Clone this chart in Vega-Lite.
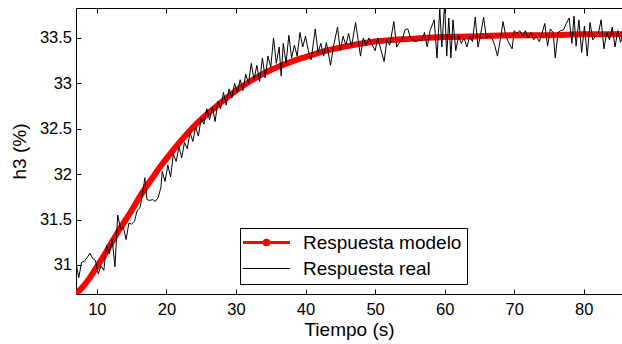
{
  "$schema": "https://vega.github.io/schema/vega-lite/v6.json",
  "width": 546,
  "height": 286,
  "autosize": {"type": "none"},
  "padding": {"left": 76, "top": 8, "right": 0, "bottom": 50},
  "background": "white",
  "config": {
    "view": {"stroke": null},
    "font": "Liberation Sans",
    "axis": {
      "domainColor": "black",
      "domainWidth": 1,
      "tickColor": "black",
      "tickSize": -5,
      "tickWidth": 1,
      "grid": false,
      "labelFont": "Liberation Sans",
      "labelFontSize": 16.5,
      "labelColor": "black",
      "titleFont": "Liberation Sans",
      "titleFontSize": 19,
      "titleFontWeight": "normal",
      "titleColor": "black"
    }
  },
  "datasets": {
    "model": [
      {"t": 7.0, "v": 30.68, "s": "Respuesta modelo"},
      {"t": 8.0, "v": 30.76, "s": "Respuesta modelo"},
      {"t": 9.0, "v": 30.86, "s": "Respuesta modelo"},
      {"t": 10.0, "v": 30.98, "s": "Respuesta modelo"},
      {"t": 11.0, "v": 31.10, "s": "Respuesta modelo"},
      {"t": 12.0, "v": 31.23, "s": "Respuesta modelo"},
      {"t": 13.0, "v": 31.36, "s": "Respuesta modelo"},
      {"t": 14.0, "v": 31.48, "s": "Respuesta modelo"},
      {"t": 15.0, "v": 31.60, "s": "Respuesta modelo"},
      {"t": 16.0, "v": 31.73, "s": "Respuesta modelo"},
      {"t": 17.0, "v": 31.85, "s": "Respuesta modelo"},
      {"t": 18.0, "v": 31.96, "s": "Respuesta modelo"},
      {"t": 19.0, "v": 32.07, "s": "Respuesta modelo"},
      {"t": 20.0, "v": 32.17, "s": "Respuesta modelo"},
      {"t": 22.0, "v": 32.36, "s": "Respuesta modelo"},
      {"t": 24.0, "v": 32.53, "s": "Respuesta modelo"},
      {"t": 26.0, "v": 32.67, "s": "Respuesta modelo"},
      {"t": 28.0, "v": 32.80, "s": "Respuesta modelo"},
      {"t": 30.0, "v": 32.92, "s": "Respuesta modelo"},
      {"t": 32.0, "v": 33.02, "s": "Respuesta modelo"},
      {"t": 34.0, "v": 33.11, "s": "Respuesta modelo"},
      {"t": 36.0, "v": 33.18, "s": "Respuesta modelo"},
      {"t": 38.0, "v": 33.24, "s": "Respuesta modelo"},
      {"t": 40.0, "v": 33.29, "s": "Respuesta modelo"},
      {"t": 43.0, "v": 33.36, "s": "Respuesta modelo"},
      {"t": 46.0, "v": 33.41, "s": "Respuesta modelo"},
      {"t": 50.0, "v": 33.46, "s": "Respuesta modelo"},
      {"t": 55.0, "v": 33.49, "s": "Respuesta modelo"},
      {"t": 60.0, "v": 33.51, "s": "Respuesta modelo"},
      {"t": 65.0, "v": 33.52, "s": "Respuesta modelo"},
      {"t": 70.0, "v": 33.53, "s": "Respuesta modelo"},
      {"t": 75.0, "v": 33.53, "s": "Respuesta modelo"},
      {"t": 80.0, "v": 33.54, "s": "Respuesta modelo"},
      {"t": 86.0, "v": 33.54, "s": "Respuesta modelo"}
    ],
    "real": [
      {"t": 7.0, "v": 31.02, "s": "Respuesta real"},
      {"t": 7.4, "v": 30.86, "s": "Respuesta real"},
      {"t": 7.8, "v": 31.03, "s": "Respuesta real"},
      {"t": 8.2, "v": 31.04, "s": "Respuesta real"},
      {"t": 8.6, "v": 31.08, "s": "Respuesta real"},
      {"t": 9.0, "v": 31.13, "s": "Respuesta real"},
      {"t": 9.4, "v": 31.07, "s": "Respuesta real"},
      {"t": 9.8, "v": 31.05, "s": "Respuesta real"},
      {"t": 10.2, "v": 30.90, "s": "Respuesta real"},
      {"t": 10.6, "v": 30.99, "s": "Respuesta real"},
      {"t": 11.0, "v": 30.94, "s": "Respuesta real"},
      {"t": 11.4, "v": 31.22, "s": "Respuesta real"},
      {"t": 11.8, "v": 31.12, "s": "Respuesta real"},
      {"t": 12.2, "v": 31.28, "s": "Respuesta real"},
      {"t": 12.6, "v": 30.98, "s": "Respuesta real"},
      {"t": 13.0, "v": 31.55, "s": "Respuesta real"},
      {"t": 13.4, "v": 31.40, "s": "Respuesta real"},
      {"t": 13.8, "v": 31.42, "s": "Respuesta real"},
      {"t": 14.2, "v": 31.28, "s": "Respuesta real"},
      {"t": 14.6, "v": 31.46, "s": "Respuesta real"},
      {"t": 15.0, "v": 31.45, "s": "Respuesta real"},
      {"t": 15.4, "v": 31.48, "s": "Respuesta real"},
      {"t": 15.8, "v": 31.60, "s": "Respuesta real"},
      {"t": 16.2, "v": 31.63, "s": "Respuesta real"},
      {"t": 16.6, "v": 31.80, "s": "Respuesta real"},
      {"t": 16.9, "v": 31.96, "s": "Respuesta real"},
      {"t": 17.2, "v": 31.72, "s": "Respuesta real"},
      {"t": 17.6, "v": 31.71, "s": "Respuesta real"},
      {"t": 18.0, "v": 31.72, "s": "Respuesta real"},
      {"t": 18.4, "v": 31.70, "s": "Respuesta real"},
      {"t": 18.8, "v": 31.74, "s": "Respuesta real"},
      {"t": 19.2, "v": 31.85, "s": "Respuesta real"},
      {"t": 19.4, "v": 32.03, "s": "Respuesta real"},
      {"t": 19.8, "v": 31.92, "s": "Respuesta real"},
      {"t": 20.2, "v": 32.10, "s": "Respuesta real"},
      {"t": 20.6, "v": 31.97, "s": "Respuesta real"},
      {"t": 21.0, "v": 32.22, "s": "Respuesta real"},
      {"t": 21.4, "v": 32.14, "s": "Respuesta real"},
      {"t": 21.8, "v": 32.30, "s": "Respuesta real"},
      {"t": 22.2, "v": 32.18, "s": "Respuesta real"},
      {"t": 22.6, "v": 32.35, "s": "Respuesta real"},
      {"t": 23.0, "v": 32.28, "s": "Respuesta real"},
      {"t": 23.4, "v": 32.46, "s": "Respuesta real"},
      {"t": 23.8, "v": 32.36, "s": "Respuesta real"},
      {"t": 24.2, "v": 32.52, "s": "Respuesta real"},
      {"t": 24.6, "v": 32.42, "s": "Respuesta real"},
      {"t": 25.0, "v": 32.62, "s": "Respuesta real"},
      {"t": 25.4, "v": 32.55, "s": "Respuesta real"},
      {"t": 25.8, "v": 32.72, "s": "Respuesta real"},
      {"t": 26.2, "v": 32.60, "s": "Respuesta real"},
      {"t": 26.6, "v": 32.74, "s": "Respuesta real"},
      {"t": 27.0, "v": 32.58, "s": "Respuesta real"},
      {"t": 27.4, "v": 32.80, "s": "Respuesta real"},
      {"t": 27.8, "v": 32.72, "s": "Respuesta real"},
      {"t": 28.2, "v": 32.90, "s": "Respuesta real"},
      {"t": 28.6, "v": 32.76, "s": "Respuesta real"},
      {"t": 29.0, "v": 32.94, "s": "Respuesta real"},
      {"t": 29.4, "v": 32.84, "s": "Respuesta real"},
      {"t": 29.8, "v": 33.00, "s": "Respuesta real"},
      {"t": 30.2, "v": 32.90, "s": "Respuesta real"},
      {"t": 30.6, "v": 33.04, "s": "Respuesta real"},
      {"t": 31.0, "v": 32.92, "s": "Respuesta real"},
      {"t": 31.4, "v": 33.10, "s": "Respuesta real"},
      {"t": 31.8, "v": 33.00, "s": "Respuesta real"},
      {"t": 32.2, "v": 33.22, "s": "Respuesta real"},
      {"t": 32.6, "v": 33.04, "s": "Respuesta real"},
      {"t": 33.0, "v": 33.20, "s": "Respuesta real"},
      {"t": 33.4, "v": 33.02, "s": "Respuesta real"},
      {"t": 33.8, "v": 33.28, "s": "Respuesta real"},
      {"t": 34.2, "v": 33.06, "s": "Respuesta real"},
      {"t": 34.6, "v": 33.30, "s": "Respuesta real"},
      {"t": 35.0, "v": 33.18, "s": "Respuesta real"},
      {"t": 35.4, "v": 33.50, "s": "Respuesta real"},
      {"t": 35.8, "v": 33.22, "s": "Respuesta real"},
      {"t": 36.2, "v": 33.40, "s": "Respuesta real"},
      {"t": 36.5, "v": 33.08, "s": "Respuesta real"},
      {"t": 36.8, "v": 33.44, "s": "Respuesta real"},
      {"t": 37.2, "v": 33.22, "s": "Respuesta real"},
      {"t": 37.6, "v": 33.53, "s": "Respuesta real"},
      {"t": 38.0, "v": 33.28, "s": "Respuesta real"},
      {"t": 38.4, "v": 33.42, "s": "Respuesta real"},
      {"t": 38.8, "v": 33.30, "s": "Respuesta real"},
      {"t": 39.2, "v": 33.56, "s": "Respuesta real"},
      {"t": 39.6, "v": 33.40, "s": "Respuesta real"},
      {"t": 40.0, "v": 33.52, "s": "Respuesta real"},
      {"t": 40.4, "v": 33.36, "s": "Respuesta real"},
      {"t": 40.8, "v": 33.26, "s": "Respuesta real"},
      {"t": 41.4, "v": 33.60, "s": "Respuesta real"},
      {"t": 41.8, "v": 33.34, "s": "Respuesta real"},
      {"t": 42.2, "v": 33.44, "s": "Respuesta real"},
      {"t": 42.6, "v": 33.30, "s": "Respuesta real"},
      {"t": 43.0, "v": 33.45, "s": "Respuesta real"},
      {"t": 43.6, "v": 33.20, "s": "Respuesta real"},
      {"t": 44.0, "v": 33.40, "s": "Respuesta real"},
      {"t": 44.6, "v": 33.62, "s": "Respuesta real"},
      {"t": 45.0, "v": 33.36, "s": "Respuesta real"},
      {"t": 45.4, "v": 33.52, "s": "Respuesta real"},
      {"t": 45.8, "v": 33.42, "s": "Respuesta real"},
      {"t": 46.2, "v": 33.55, "s": "Respuesta real"},
      {"t": 46.6, "v": 33.40, "s": "Respuesta real"},
      {"t": 47.2, "v": 33.67, "s": "Respuesta real"},
      {"t": 47.9, "v": 33.30, "s": "Respuesta real"},
      {"t": 48.3, "v": 33.50, "s": "Respuesta real"},
      {"t": 48.7, "v": 33.42, "s": "Respuesta real"},
      {"t": 49.1, "v": 33.50, "s": "Respuesta real"},
      {"t": 49.5, "v": 33.44, "s": "Respuesta real"},
      {"t": 50.0, "v": 33.36, "s": "Respuesta real"},
      {"t": 50.4, "v": 33.50, "s": "Respuesta real"},
      {"t": 50.8, "v": 33.38, "s": "Respuesta real"},
      {"t": 51.3, "v": 33.24, "s": "Respuesta real"},
      {"t": 51.7, "v": 33.48, "s": "Respuesta real"},
      {"t": 52.1, "v": 33.42, "s": "Respuesta real"},
      {"t": 52.7, "v": 33.68, "s": "Respuesta real"},
      {"t": 53.1, "v": 33.40, "s": "Respuesta real"},
      {"t": 53.5, "v": 33.45, "s": "Respuesta real"},
      {"t": 53.9, "v": 33.48, "s": "Respuesta real"},
      {"t": 54.3, "v": 33.59, "s": "Respuesta real"},
      {"t": 54.7, "v": 33.60, "s": "Respuesta real"},
      {"t": 55.1, "v": 33.50, "s": "Respuesta real"},
      {"t": 55.5, "v": 33.47, "s": "Respuesta real"},
      {"t": 55.9, "v": 33.46, "s": "Respuesta real"},
      {"t": 56.3, "v": 33.48, "s": "Respuesta real"},
      {"t": 56.7, "v": 33.47, "s": "Respuesta real"},
      {"t": 57.1, "v": 33.56, "s": "Respuesta real"},
      {"t": 57.5, "v": 33.40, "s": "Respuesta real"},
      {"t": 57.9, "v": 33.58, "s": "Respuesta real"},
      {"t": 58.5, "v": 33.70, "s": "Respuesta real"},
      {"t": 58.9, "v": 33.28, "s": "Respuesta real"},
      {"t": 59.3, "v": 33.82, "s": "Respuesta real"},
      {"t": 59.6, "v": 33.40, "s": "Respuesta real"},
      {"t": 60.0, "v": 33.88, "s": "Respuesta real"},
      {"t": 60.3, "v": 33.30, "s": "Respuesta real"},
      {"t": 60.6, "v": 33.72, "s": "Respuesta real"},
      {"t": 60.9, "v": 33.28, "s": "Respuesta real"},
      {"t": 61.2, "v": 33.70, "s": "Respuesta real"},
      {"t": 61.6, "v": 33.36, "s": "Respuesta real"},
      {"t": 62.0, "v": 33.52, "s": "Respuesta real"},
      {"t": 62.4, "v": 33.44, "s": "Respuesta real"},
      {"t": 62.8, "v": 33.50, "s": "Respuesta real"},
      {"t": 63.2, "v": 33.40, "s": "Respuesta real"},
      {"t": 63.6, "v": 33.52, "s": "Respuesta real"},
      {"t": 64.0, "v": 33.46, "s": "Respuesta real"},
      {"t": 64.4, "v": 33.73, "s": "Respuesta real"},
      {"t": 64.8, "v": 33.40, "s": "Respuesta real"},
      {"t": 65.2, "v": 33.55, "s": "Respuesta real"},
      {"t": 65.6, "v": 33.73, "s": "Respuesta real"},
      {"t": 66.0, "v": 33.50, "s": "Respuesta real"},
      {"t": 66.4, "v": 33.52, "s": "Respuesta real"},
      {"t": 66.8, "v": 33.50, "s": "Respuesta real"},
      {"t": 67.2, "v": 33.42, "s": "Respuesta real"},
      {"t": 67.6, "v": 33.30, "s": "Respuesta real"},
      {"t": 68.0, "v": 33.48, "s": "Respuesta real"},
      {"t": 68.4, "v": 33.68, "s": "Respuesta real"},
      {"t": 68.8, "v": 33.52, "s": "Respuesta real"},
      {"t": 69.2, "v": 33.45, "s": "Respuesta real"},
      {"t": 69.7, "v": 33.38, "s": "Respuesta real"},
      {"t": 70.0, "v": 33.58, "s": "Respuesta real"},
      {"t": 70.4, "v": 33.55, "s": "Respuesta real"},
      {"t": 70.8, "v": 33.58, "s": "Respuesta real"},
      {"t": 71.2, "v": 33.52, "s": "Respuesta real"},
      {"t": 71.6, "v": 33.58, "s": "Respuesta real"},
      {"t": 72.0, "v": 33.50, "s": "Respuesta real"},
      {"t": 72.4, "v": 33.56, "s": "Respuesta real"},
      {"t": 72.8, "v": 33.48, "s": "Respuesta real"},
      {"t": 73.2, "v": 33.52, "s": "Respuesta real"},
      {"t": 73.6, "v": 33.46, "s": "Respuesta real"},
      {"t": 74.0, "v": 33.55, "s": "Respuesta real"},
      {"t": 74.4, "v": 33.66, "s": "Respuesta real"},
      {"t": 74.8, "v": 33.41, "s": "Respuesta real"},
      {"t": 75.2, "v": 33.60, "s": "Respuesta real"},
      {"t": 75.6, "v": 33.56, "s": "Respuesta real"},
      {"t": 75.9, "v": 33.28, "s": "Respuesta real"},
      {"t": 76.3, "v": 33.56, "s": "Respuesta real"},
      {"t": 76.7, "v": 33.58, "s": "Respuesta real"},
      {"t": 77.1, "v": 33.59, "s": "Respuesta real"},
      {"t": 77.5, "v": 33.66, "s": "Respuesta real"},
      {"t": 77.9, "v": 33.72, "s": "Respuesta real"},
      {"t": 78.3, "v": 33.44, "s": "Respuesta real"},
      {"t": 78.6, "v": 33.74, "s": "Respuesta real"},
      {"t": 78.9, "v": 33.41, "s": "Respuesta real"},
      {"t": 79.3, "v": 33.70, "s": "Respuesta real"},
      {"t": 79.7, "v": 33.34, "s": "Respuesta real"},
      {"t": 80.1, "v": 33.63, "s": "Respuesta real"},
      {"t": 80.5, "v": 33.30, "s": "Respuesta real"},
      {"t": 80.9, "v": 33.67, "s": "Respuesta real"},
      {"t": 81.3, "v": 33.48, "s": "Respuesta real"},
      {"t": 81.7, "v": 33.52, "s": "Respuesta real"},
      {"t": 82.1, "v": 33.55, "s": "Respuesta real"},
      {"t": 82.5, "v": 33.70, "s": "Respuesta real"},
      {"t": 82.9, "v": 33.38, "s": "Respuesta real"},
      {"t": 83.3, "v": 33.56, "s": "Respuesta real"},
      {"t": 83.7, "v": 33.48, "s": "Respuesta real"},
      {"t": 84.1, "v": 33.62, "s": "Respuesta real"},
      {"t": 84.5, "v": 33.40, "s": "Respuesta real"},
      {"t": 84.9, "v": 33.58, "s": "Respuesta real"},
      {"t": 85.3, "v": 33.45, "s": "Respuesta real"},
      {"t": 85.7, "v": 33.60, "s": "Respuesta real"}
    ]
  },
  "layer": [
    {
      "data": {"name": "model"},
      "mark": {"type": "line", "strokeWidth": 6, "strokeCap": "round", "strokeJoin": "round", "clip": true, "interpolate": "monotone"},
      "encoding": {
        "x": {"field": "t", "type": "quantitative", "scale": {"domain": [7, 85.5], "nice": false, "zero": false},
          "axis": {"values": [10, 20, 30, 40, 50, 60, 70, 80], "title": "Tiempo (s)", "labelPadding": 12, "titlePadding": 3}},
        "y": {"field": "v", "type": "quantitative", "scale": {"domain": [30.68, 33.83], "nice": false, "zero": false},
          "axis": {"values": [31, 31.5, 32, 32.5, 33, 33.5], "format": "~g", "title": "h3 (%)", "labelPadding": 9.5, "titlePadding": 10}},
        "color": {"field": "s", "type": "nominal",
          "scale": {"domain": ["Respuesta modelo", "Respuesta real"], "range": ["#ff0000", "#000000"]},
          "legend": {
            "title": null,
            "orient": "none",
            "legendX": 164,
            "legendY": 220,
            "direction": "vertical",
            "strokeColor": "black",
            "fillColor": "white",
            "padding": 5,
            "symbolOffset": 12,
            "labelFont": "Liberation Sans",
            "labelFontSize": 19,
            "labelLimit": 400,
            "labelColor": "black",
            "labelOffset": 27,
            "symbolType": "M-1,0H1",
            "symbolSize": 2209,
            "symbolStrokeWidth": 2,
            "rowPadding": 6,
            "encode": {
              "symbols": {"update": {
                "shape": {"signal": "datum.value === 'Respuesta modelo' ? 'M-1,0H1M0.1,0A0.1,0.1,0,1,1,-0.1,0A0.1,0.1,0,1,1,0.1,0' : 'M-1,0H1'"},
                "strokeWidth": {"signal": "datum.value === 'Respuesta modelo' ? 3 : 1"},
                "fill": {"signal": "datum.value === 'Respuesta modelo' ? '#ff0000' : 'transparent'"}
              }}
            }
          }}
      }
    },
    {
      "data": {"name": "real"},
      "mark": {"type": "line", "strokeWidth": 1, "clip": true},
      "encoding": {
        "x": {"field": "t", "type": "quantitative", "axis": null},
        "y": {"field": "v", "type": "quantitative"},
        "color": {"field": "s", "type": "nominal"}
      }
    },
    {
      "data": {"name": "model"},
      "mark": {"type": "line", "opacity": 0},
      "encoding": {
        "x": {"field": "t", "type": "quantitative",
          "axis": {"orient": "top", "values": [10, 20, 30, 40, 50, 60, 70, 80], "labels": false, "title": null}},
        "y": {"field": "v", "type": "quantitative"}
      }
    }
  ],
  "resolve": {"axis": {"x": "independent"}}
}
